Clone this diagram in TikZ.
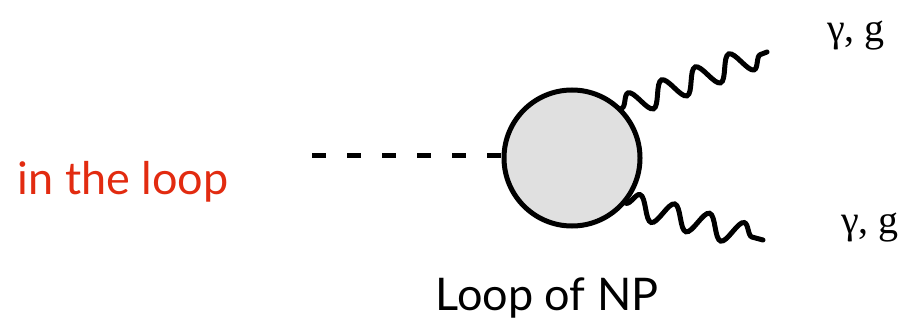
\documentclass[tikz,border=0pt]{standalone}
\usepackage{fontspec}
\setmainfont{Liberation Serif}
\newfontfamily\gillfont{Lato}
\usetikzlibrary{decorations.pathmorphing}
\definecolor{loopred}{HTML}{E22B10}
\definecolor{blobgray}{HTML}{E0E0E0}
\tikzset{
  blob/.style={circle,draw=black,line width=5pt,fill=blobgray,minimum size=136pt,inner sep=0pt},
  scalar/.style={line width=5pt,dash pattern=on 14pt off 21pt},
  gluon/.style={line width=5pt,line cap=round,decorate,decoration={snake,amplitude=12pt,segment length=36pt}},
  lbl/.style={font=\fontsize{40}{44}\selectfont,inner sep=0pt},
  sanslbl/.style={font=\gillfont\fontsize{45}{50}\selectfont,inner sep=0pt}
}
\begin{document}
\begin{tikzpicture}[x=1pt,y=-1pt]
\useasboundingbox (0,0) rectangle (910,329);
\node[blob] (b) at (572,158) {};
\coordinate (s) at (312,155);
\coordinate (u) at (767,52);
\coordinate (d) at (763,240);
\draw[scalar] (s) -- (b.west |- s);
\draw[gluon] (b.45) -- (u);
\draw[gluon] (b.-40) -- (d);
\node[lbl] (tu) at (856,36) {γ, g};
\node[lbl] (td) at (870,228) {γ, g};
\node[sanslbl,text=loopred] (itl) at (123,182) {in the loop};
\node[sanslbl] (lnp) at (547,298) {Loop of NP};
\end{tikzpicture}
\end{document}
